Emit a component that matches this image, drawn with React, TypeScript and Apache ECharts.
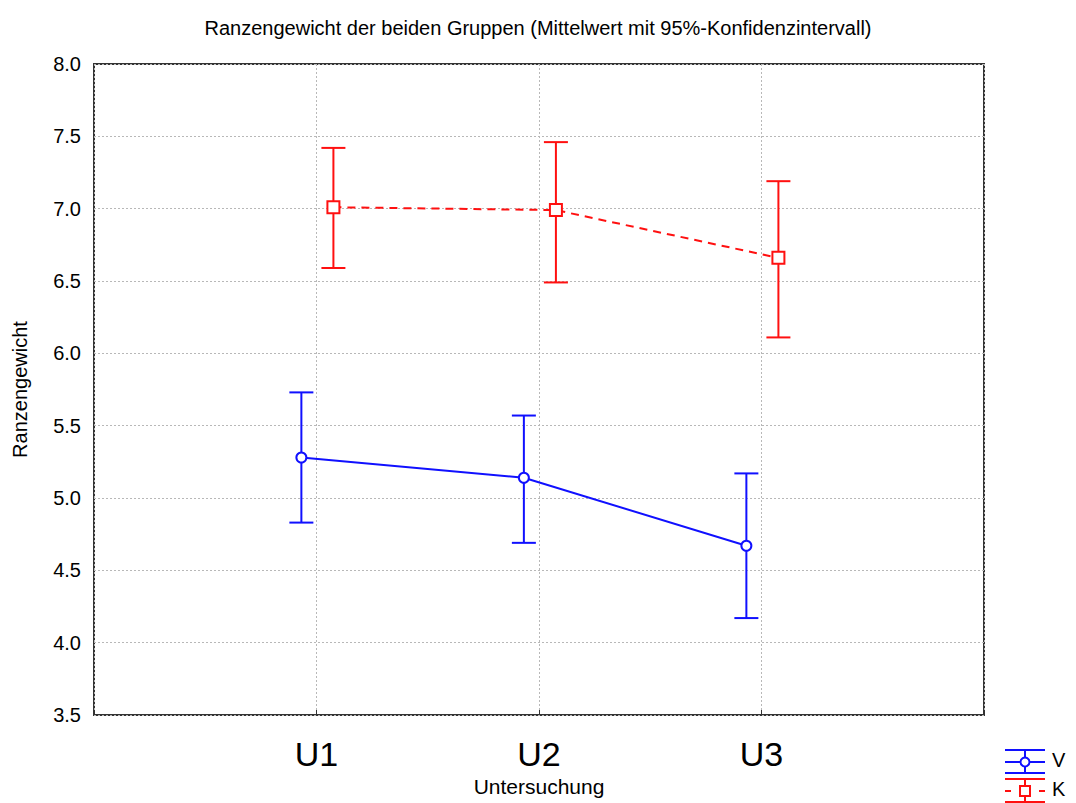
import React, { useEffect, useRef } from "react";
import * as echarts from "echarts";

// Examination time points
const categories = ["U1", "U2", "U3"];

// Group V: means and 95% confidence limits
const vMean = [5.28, 5.14, 4.67];
const vLow = [4.83, 4.69, 4.17];
const vHigh = [5.73, 5.57, 5.17];

// Group K: means and 95% confidence limits
const kMean = [7.01, 6.99, 6.66];
const kLow = [6.59, 6.49, 6.11];
const kHigh = [7.42, 7.46, 7.19];

const yTicks = ["3.5", "4.0", "4.5", "5.0", "5.5", "6.0", "6.5", "7.0", "7.5", "8.0"];

const BLUE = "#1010ff";
const RED = "#ff1010";
const FONT = "Liberation Sans, Arial, sans-serif";

// small horizontal shift so the two groups do not overlap at a time point
const V_SHIFT = -0.068;
const K_SHIFT = 0.076;

function errorBarSeries(low: number[], high: number[], shift: number, color: string) {
  const data = low.map((l, i) => [i + 1 + shift, l, high[i]]);
  return {
    type: "custom",
    z: 2,
    data,
    encode: { x: 0, y: [1, 2] },
    renderItem: (params: any, api: any) => {
      const x = api.value(0);
      const lo = api.coord([x, api.value(1)]);
      const hi = api.coord([x, api.value(2)]);
      const half = 12;
      const style = { stroke: color, lineWidth: 2 };
      return {
        type: "group",
        children: [
          { type: "line", shape: { x1: lo[0], y1: lo[1], x2: hi[0], y2: hi[1] }, style },
          { type: "line", shape: { x1: hi[0] - half, y1: hi[1], x2: hi[0] + half, y2: hi[1] }, style },
          { type: "line", shape: { x1: lo[0] - half, y1: lo[1], x2: lo[0] + half, y2: lo[1] }, style },
        ],
      };
    },
  };
}

function meanSeries(name: string, mean: number[], shift: number, color: string, symbol: string, size: number, dashed: boolean) {
  return {
    name,
    type: "line",
    z: 3,
    data: mean.map((m, i) => [i + 1 + shift, m]),
    symbol,
    symbolSize: size,
    showAllSymbol: true,
    lineStyle: { color, width: 2, type: dashed ? [8, 6] : "solid" },
    itemStyle: { color, borderColor: color, borderWidth: 2 },
  };
}

function legendItem(y: number, color: string, marker: "circle" | "rect", label: string) {
  const x1 = 1005;
  const x2 = 1045;
  const cx = 1025;
  const st = { stroke: color, lineWidth: 2 };
  const children: any[] = [
    { type: "line", shape: { x1, y1: y - 12, x2, y2: y - 12 }, style: st },
    { type: "line", shape: { x1, y1: y + 11, x2, y2: y + 11 }, style: st },
    { type: "line", shape: { x1: cx, y1: y - 12, x2: cx, y2: y + 11 }, style: st },
  ];
  if (marker === "circle") {
    children.push({ type: "line", shape: { x1, y1: y, x2, y2: y }, style: st });
    children.push({ type: "circle", shape: { cx, cy: y, r: 4.5 }, style: { fill: "#fff", stroke: color, lineWidth: 2 } });
  } else {
    children.push({ type: "line", shape: { x1, y1: y, x2: x1 + 6, y2: y }, style: st });
    children.push({ type: "line", shape: { x1: x2 - 6, y1: y, x2, y2: y }, style: st });
    children.push({ type: "rect", shape: { x: cx - 5, y: y - 5, width: 10, height: 10 }, style: { fill: "#fff", stroke: color, lineWidth: 2 } });
  }
  children.push({
    type: "text",
    x: 1052,
    y: y - 2,
    style: { text: label, font: `20px ${FONT}`, fill: "#000", verticalAlign: "middle" },
  });
  return { type: "group", children };
}

export default function App() {
  const ref = useRef<HTMLDivElement>(null);

  useEffect(() => {
    document.body.style.margin = "0";
    if (!ref.current) return;
    const chart = echarts.init(ref.current, undefined, { renderer: "svg" });
    const gridLine = { show: true, lineStyle: { color: "#b8b8b8", type: [2, 2], width: 1 } };
    chart.setOption({
      animation: false,
      backgroundColor: "#fff",
      title: {
        text: "Ranzengewicht der beiden Gruppen (Mittelwert mit 95%-Konfidenzintervall)",
        left: "center",
        top: 13,
        textStyle: { fontFamily: FONT, fontSize: 20, fontWeight: "normal", color: "#000" },
      },
      grid: {
        left: 94,
        right: 92,
        top: 64,
        bottom: 88,
        show: true,
        borderColor: "#333",
        borderWidth: 2,
        backgroundColor: "#fff",
      },
      xAxis: {
        type: "value",
        min: 0,
        max: categories.length + 1,
        interval: 1,
        name: "Untersuchung",
        nameLocation: "middle",
        nameGap: 60,
        nameTextStyle: { fontFamily: FONT, fontSize: 21, color: "#000" },
        axisLine: { show: false },
        axisTick: { show: true, inside: true, length: 5, lineStyle: { color: "#333", width: 1 } },
        axisLabel: {
          margin: 22,
          fontFamily: FONT,
          fontSize: 34,
          color: "#000",
          formatter: (v: number) => (v >= 1 && v <= categories.length ? categories[v - 1] : ""),
        },
        splitLine: gridLine,
      },
      yAxis: {
        type: "value",
        min: 3.5,
        max: 8,
        interval: 0.5,
        name: "Ranzengewicht",
        nameLocation: "middle",
        nameGap: 64,
        nameTextStyle: { fontFamily: FONT, fontSize: 20, color: "#000" },
        axisLine: { show: false },
        axisTick: { show: false },
        axisLabel: {
          margin: 13,
          fontFamily: FONT,
          fontSize: 20,
          color: "#000",
          formatter: (v: number) => yTicks[Math.round((v - 3.5) / 0.5)] ?? v.toFixed(1),
        },
        splitLine: gridLine,
      },
      series: [
        errorBarSeries(vLow, vHigh, V_SHIFT, BLUE),
        errorBarSeries(kLow, kHigh, K_SHIFT, RED),
        meanSeries("V", vMean, V_SHIFT, BLUE, "emptyCircle", 10, false),
        meanSeries("K", kMean, K_SHIFT, RED, "emptyRect", 12, true),
      ],
      graphic: [legendItem(762, BLUE, "circle", "V"), legendItem(791, RED, "rect", "K")],
    });
    return () => chart.dispose();
  }, []);

  return <div ref={ref} style={{ width: 1076, height: 803 }} />;
}
